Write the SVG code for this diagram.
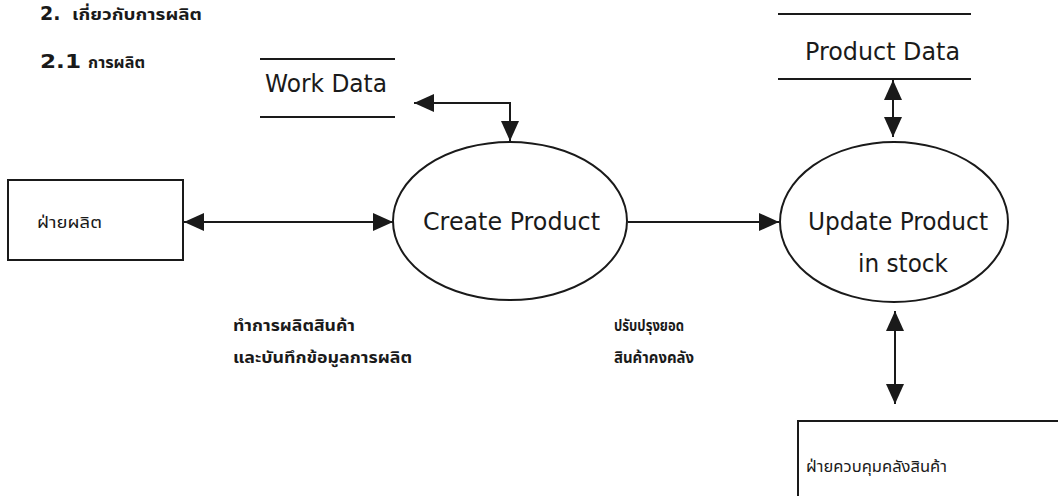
<svg xmlns="http://www.w3.org/2000/svg" width="1058" height="496" viewBox="0 0 1058 496">
<style>
.bg{fill:#ffffff}
.ln{stroke:#1a1a1a;stroke-width:2;fill:none}
.node{stroke:#1a1a1a;stroke-width:2;fill:#ffffff}
.en{font-family:"DejaVu Sans","Liberation Sans",sans-serif;fill:#1a1a1a;font-size:24px}
.hd{font-family:"DejaVu Sans","Liberation Sans",sans-serif;font-weight:bold;font-size:19px;fill:#1a1a1a}
.th{font-family:"Noto Sans Thai","Loma","Garuda","Tlwg Typo","Noto Sans",sans-serif;font-size:16px;font-weight:bold;fill:#1a1a1a}
.tn{font-family:"Noto Sans Thai","Loma","Garuda","Tlwg Typo","Noto Sans",sans-serif;font-size:16px;font-weight:normal;fill:#1a1a1a}
</style>
<defs>
<marker id="ah" markerUnits="userSpaceOnUse" markerWidth="20" markerHeight="18" refX="20" refY="9" orient="auto-start-reverse" viewBox="0 0 20 18">
<path d="M0,0 L20,9 L0,18 z" fill="#1a1a1a"/>
</marker>
</defs>
<rect class="bg" x="0" y="0" width="1058" height="496"/>

<g id="headings">
<text class="hd" x="40" y="20">2.</text>
<text class="th" x="72" y="20" textLength="130" lengthAdjust="spacingAndGlyphs">เกี่ยวกับการผลิต</text>
<text class="hd" x="40" y="68" textLength="41" lengthAdjust="spacingAndGlyphs">2.1</text>
<text class="th" x="88" y="68" textLength="57" lengthAdjust="spacingAndGlyphs">การผลิต</text>
</g>

<g id="connectors">
<path class="ln" d="M414,103 H510 V141" marker-start="url(#ah)" marker-end="url(#ah)"/>
<path class="ln" d="M893,80 V137" marker-start="url(#ah)" marker-end="url(#ah)"/>
<path class="ln" d="M184,222 H393" marker-start="url(#ah)" marker-end="url(#ah)"/>
<path class="ln" d="M628,222 H779" marker-end="url(#ah)"/>
<path class="ln" d="M895,311 V404" marker-start="url(#ah)" marker-end="url(#ah)"/>
</g>

<g id="store-work-data">
<line class="ln" x1="260" y1="59" x2="395" y2="59"/>
<line class="ln" x1="260" y1="117" x2="395" y2="117"/>
<text class="en" x="265" y="92" textLength="122" lengthAdjust="spacingAndGlyphs">Work Data</text>
</g>

<g id="store-product-data">
<line class="ln" x1="778" y1="14" x2="971" y2="14"/>
<line class="ln" x1="778" y1="79" x2="971" y2="79"/>
<text class="en" x="805" y="60" textLength="155" lengthAdjust="spacingAndGlyphs">Product Data</text>
</g>

<g id="entity-production">
<rect class="node" x="8" y="180" width="175" height="80"/>
<text class="tn" x="37" y="228" textLength="65" lengthAdjust="spacingAndGlyphs">ฝ่ายผลิต</text>
</g>

<g id="process-create-product">
<ellipse class="node" cx="510" cy="221" rx="117" ry="79"/>
<text class="en" x="423" y="230" textLength="177" lengthAdjust="spacingAndGlyphs">Create Product</text>
</g>

<g id="process-update-product">
<ellipse class="node" cx="894" cy="222" rx="114" ry="80"/>
<text class="en" x="808" y="230" textLength="180" lengthAdjust="spacingAndGlyphs">Update Product</text>
<text class="en" x="858" y="272" textLength="90" lengthAdjust="spacingAndGlyphs">in stock</text>
</g>

<g id="entity-stock-control">
<rect class="node" x="798" y="421" width="280" height="100"/>
<text class="tn" x="806" y="472" textLength="141" lengthAdjust="spacingAndGlyphs">ฝ่ายควบคุมคลังสินค้า</text>
</g>

<g id="labels">
<text class="th" x="233" y="331" textLength="122" lengthAdjust="spacingAndGlyphs">ทำการผลิตสินค้า</text>
<text class="th" x="233" y="363" textLength="179" lengthAdjust="spacingAndGlyphs">และบันทึกข้อมูลการผลิต</text>
<text class="th" x="614" y="331" textLength="70" lengthAdjust="spacingAndGlyphs">ปรับปรุงยอด</text>
<text class="th" x="614" y="363" textLength="80" lengthAdjust="spacingAndGlyphs">สินค้าคงคลัง</text>
</g>
</svg>
